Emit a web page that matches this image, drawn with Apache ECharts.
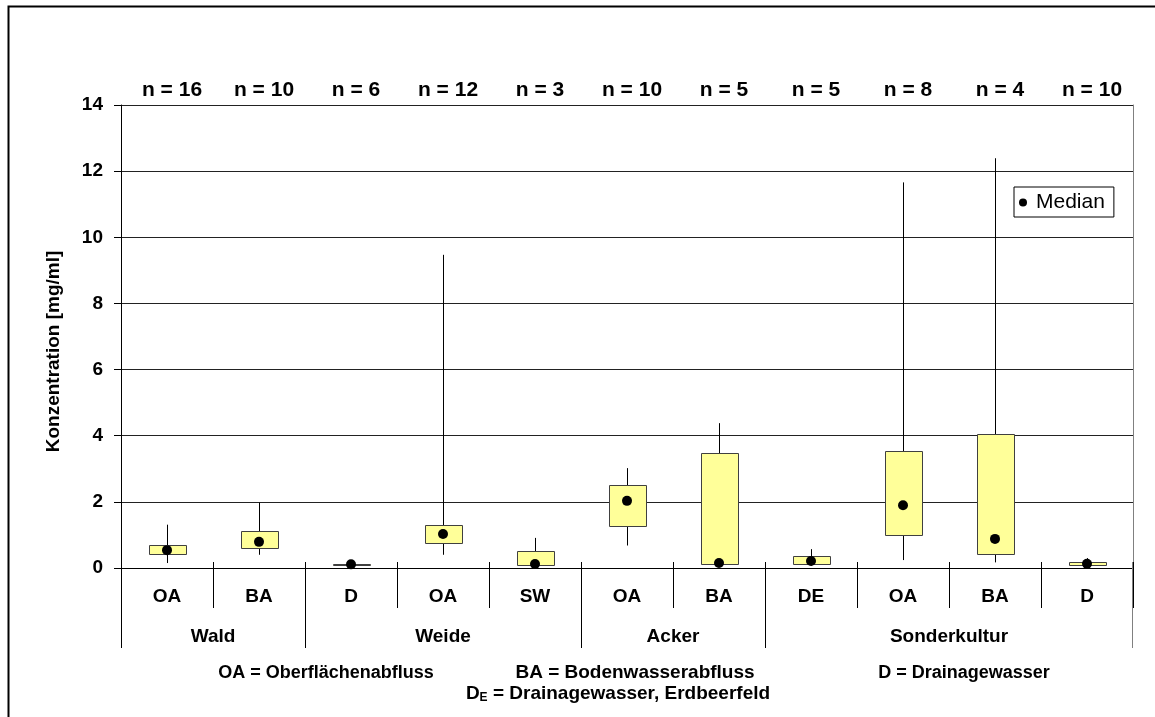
<!DOCTYPE html>
<html>
<head>
<meta charset="utf-8">
<script src="https://cdn.jsdelivr.net/npm/echarts@6/dist/echarts.min.js"></script>
<style>
  html, body { margin: 0; padding: 0; background: #fff; }
  #chart { width: 1155px; height: 717px; }
</style>
</head>
<body>
<div id="chart"></div>
<script>
// Sample type per box (bottom category row)
const categories = ['OA', 'BA', 'D', 'OA', 'SW', 'OA', 'BA', 'DE', 'OA', 'BA', 'D'];
// Land use groups and how many sample types belong to each
const groupNames = ['Wald', 'Weide', 'Acker', 'Sonderkultur'];
const groupSizes = [2, 3, 2, 4];
// Number of samples per box
const sampleCounts = [16, 10, 6, 12, 3, 10, 5, 5, 8, 4, 10];
// Box statistics, mg/ml
const whiskerLow  = [0.15, 0.40, 0.02, 0.40, 0.05, 0.68, 0.10, 0.07, 0.24, 0.17, 0.05];
const quartile1   = [0.43, 0.60, 0.09, 0.76, 0.10, 1.28, 0.12, 0.13, 1.00, 0.42, 0.09];
const medians     = [0.54, 0.79, 0.11, 1.03, 0.12, 2.03, 0.15, 0.21, 1.90, 0.88, 0.13];
const quartile3   = [0.69, 1.11, 0.13, 1.30, 0.50, 2.51, 3.49, 0.35, 3.54, 4.06, 0.19];
const whiskerHigh = [1.31, 1.98, 0.15, 9.47, 0.91, 3.02, 4.38, 0.57, 11.66, 12.39, 0.30];
// Value axis range
const yMin = 0, yMax = 14, yStep = 2;

const FONT = '"Liberation Sans", Arial, sans-serif';

// group index ranges built from the group sizes
const groupRanges = [];
(function () {
  let start = 0;
  groupSizes.forEach(function (size) {
    groupRanges.push([start, start + size - 1]);
    start += size;
  });
})();

const crisp = function (v) { return Math.round(v) + 0.5; };

const chart = echarts.init(document.getElementById('chart'), null, { renderer: 'canvas' });

chart.setOption({
  backgroundColor: '#fff',
  animation: false,
  grid: { left: 121, right: 22, top: 105, bottom: 149 },
  legend: {
    data: ['Median'],
    left: 1014,
    top: 187,
    orient: 'vertical',
    icon: 'circle',
    itemWidth: 16,
    itemHeight: 8,
    padding: [5, 9, 4, 5],
    borderColor: '#000',
    borderWidth: 1,
    borderRadius: 0,
    backgroundColor: '#fff',
    textStyle: { fontFamily: FONT, fontSize: 21, color: '#000' }
  },
  xAxis: [
    {
      type: 'category',
      data: categories,
      position: 'bottom',
      boundaryGap: true,
      axisLine: { show: true, lineStyle: { color: '#000', width: 1 } },
      axisTick: { show: true, interval: 0, length: 40, lineStyle: { color: '#000', width: 1 } },
      axisLabel: { interval: 0, margin: 19, color: '#000', fontFamily: FONT, fontWeight: 'bold', fontSize: 19 },
      splitLine: { show: false }
    },
    {
      // short tick marks above the category axis
      type: 'category',
      data: categories,
      position: 'bottom',
      boundaryGap: true,
      axisLine: { show: false },
      axisTick: { show: true, inside: true, interval: 0, length: 6, lineStyle: { color: '#000', width: 1 } },
      axisLabel: { show: false },
      splitLine: { show: false }
    },
    {
      // sample counts along the top
      type: 'category',
      data: sampleCounts.map(function (n) { return 'n = ' + n; }),
      position: 'top',
      boundaryGap: true,
      axisLine: { show: false },
      axisTick: { show: false },
      axisLabel: { interval: 0, margin: 4, color: '#000', fontFamily: FONT, fontWeight: 'bold', fontSize: 21,
        padding: [0, 0, 0, 10] },
      splitLine: { show: false }
    }
  ],
  yAxis: [
    {
      type: 'value',
      min: yMin,
      max: yMax,
      interval: yStep,
      name: 'Konzentration [mg/ml]',
      nameLocation: 'middle',
      nameRotate: 90,
      nameGap: 58,
      nameTextStyle: { fontFamily: FONT, fontWeight: 'bold', fontSize: 19, color: '#000', padding: [0, 30, 0, 0] },
      axisLine: { show: true, lineStyle: { color: '#000', width: 1 } },
      axisTick: { show: true, length: 7, lineStyle: { color: '#000', width: 1 } },
      axisLabel: { margin: 18, color: '#000', fontFamily: FONT, fontWeight: 'bold', fontSize: 19 },
      splitLine: { show: true, lineStyle: { color: '#222', width: 1 } }
    },
    {
      // right-hand frame of the plot area
      type: 'value',
      min: yMin,
      max: yMax,
      interval: yStep,
      position: 'right',
      axisLine: { show: true, lineStyle: { color: '#808080', width: 1 } },
      axisTick: { show: false },
      axisLabel: { show: false },
      splitLine: { show: false }
    }
  ],
  graphic: [
    {
      type: 'rect',
      shape: { x: 8.5, y: 6.5, width: 1300, height: 900 },
      style: { fill: null, stroke: '#000', lineWidth: 2 },
      silent: true
    },
    {
      type: 'text',
      x: 326, y: 673,
      style: { text: 'OA = Oberflächenabfluss', align: 'center', verticalAlign: 'middle',
        fontFamily: FONT, fontWeight: 'bold', fontSize: 18, fill: '#000' }
    },
    {
      type: 'text',
      x: 635, y: 673,
      style: { text: 'BA = Bodenwasserabfluss', align: 'center', verticalAlign: 'middle',
        fontFamily: FONT, fontWeight: 'bold', fontSize: 19, fill: '#000' }
    },
    {
      type: 'text',
      x: 964, y: 673,
      style: { text: 'D = Drainagewasser', align: 'center', verticalAlign: 'middle',
        fontFamily: FONT, fontWeight: 'bold', fontSize: 18, fill: '#000' }
    },
    {
      type: 'text',
      x: 618, y: 694,
      style: {
        text: '{m|D}{s|E}{m| = Drainagewasser, Erdbeerfeld}',
        align: 'center', verticalAlign: 'middle',
        rich: {
          m: { fontFamily: FONT, fontWeight: 'bold', fontSize: 19, lineHeight: 20, fill: '#000' },
          s: { fontFamily: FONT, fontWeight: 'bold', fontSize: 12, lineHeight: 12, verticalAlign: 'bottom', fill: '#000' }
        }
      }
    }
  ],
  series: [
    {
      // whiskers and interquartile boxes
      type: 'custom',
      name: 'Box',
      xAxisIndex: 0,
      yAxisIndex: 0,
      z: 2,
      data: categories.map(function (c, i) {
        return [i, whiskerLow[i], quartile1[i], medians[i], quartile3[i], whiskerHigh[i]];
      }),
      encode: { x: 0, y: [1, 2, 3, 4, 5] },
      renderItem: function (params, api) {
        const i = api.value(0);
        const lo = api.coord([i, api.value(1)]);
        const q1 = api.coord([i, api.value(2)]);
        const q3 = api.coord([i, api.value(4)]);
        const hi = api.coord([i, api.value(5)]);
        const w = Math.round(api.size([1, 0])[0] * 0.4);
        const cx = crisp(lo[0]);
        const top = crisp(q3[1]);
        const bottom = crisp(q1[1]);
        return {
          type: 'group',
          children: [
            {
              type: 'line',
              shape: { x1: cx, y1: lo[1], x2: cx, y2: hi[1] },
              style: { stroke: '#000', lineWidth: 1 }
            },
            {
              type: 'rect',
              shape: { x: Math.round(cx - w / 2) + 0.5, y: top, width: w, height: Math.max(bottom - top, 1) },
              style: { fill: '#FFFF99', stroke: '#404040', lineWidth: 1 }
            }
          ]
        };
      }
    },
    {
      type: 'scatter',
      name: 'Median',
      xAxisIndex: 0,
      yAxisIndex: 0,
      z: 3,
      symbol: 'circle',
      symbolSize: 10,
      itemStyle: { color: '#000', opacity: 1 },
      data: medians.map(function (m, i) { return [i, m]; })
    },
    {
      // land use group labels and their separators below the category row
      type: 'custom',
      name: 'Groups',
      xAxisIndex: 0,
      yAxisIndex: 0,
      clip: false,
      silent: true,
      data: groupRanges,
      encode: { x: [0, 1] },
      renderItem: function (params, api) {
        const band = api.size([1, 0])[0];
        const a = api.coord([api.value(0), yMin]);
        const b = api.coord([api.value(1), yMin]);
        const left = a[0] - band / 2;
        const right = b[0] + band / 2;
        const base = a[1];
        const children = [
          {
            type: 'line',
            shape: { x1: crisp(left), y1: base, x2: crisp(left), y2: base + 80 },
            style: { stroke: '#000', lineWidth: 1 }
          },
          {
            type: 'text',
            x: (left + right) / 2,
            y: base + 69,
            style: {
              text: groupNames[params.dataIndex],
              align: 'center', verticalAlign: 'middle',
              fontFamily: FONT, fontWeight: 'bold', fontSize: 19, fill: '#000'
            }
          }
        ];
        if (params.dataIndex === groupRanges.length - 1) {
          children.push({
            type: 'line',
            shape: { x1: crisp(right) - 1, y1: base - 6, x2: crisp(right) - 1, y2: base + 80 },
            style: { stroke: '#808080', lineWidth: 1 }
          });
        }
        return { type: 'group', children: children };
      }
    }
  ]
});
</script>
</body>
</html>
